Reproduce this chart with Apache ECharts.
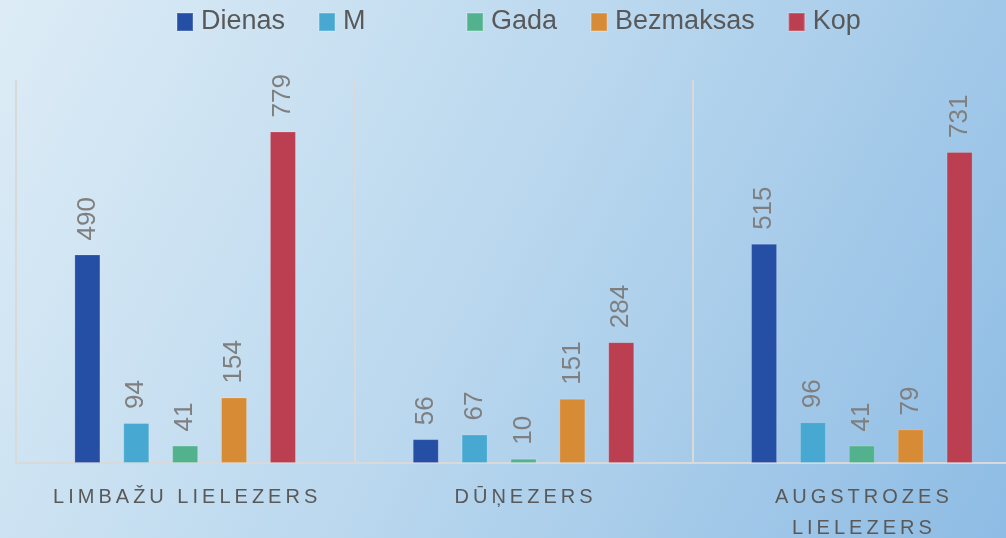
<!DOCTYPE html>
<html>
<head>
<meta charset="utf-8">
<script src="https://cdn.jsdelivr.net/npm/echarts@6/dist/echarts.min.js"></script>
<style>
html,body{margin:0;padding:0;width:1006px;height:538px;overflow:hidden;}
#c{width:1006px;height:538px;}
</style>
</head>
<body>
<div id="c"></div>
<script>
const categories = ['LIMBAŽU LIELEZERS', 'DŪŅEZERS', 'AUGSTROZES LIELEZERS'];
const seriesNames = ['Dienas', 'M', 'Gada', 'Bezmaksas', 'Kop'];
const dienas = [490, 56, 515];
const mVals = [94, 67, 96];
const gada = [41, 10, 41];
const bezmaksas = [154, 151, 79];
const kop = [779, 284, 731];
const colors = ['#254ea5', '#47a9d2', '#52b28d', '#d88b35', '#bb3f50'];

const dataSets = [dienas, mVals, gada, bezmaksas, kop];
const FONT = '"Liberation Sans", Arial, sans-serif';

const chart = echarts.init(document.getElementById('c'), null, {renderer: 'canvas'});
chart.setOption({
  backgroundColor: {
    type: 'linear', x: 0, y: 0, x2: 1, y2: 1,
    colorStops: [
      {offset: 0, color: '#ddecf6'},
      {offset: 0.5, color: '#b9d7ee'},
      {offset: 1, color: '#8ebce4'}
    ]
  },
  legend: {
    data: seriesNames,
    left: 176, top: 7,
    padding: 0,
    itemGap: 33,
    itemWidth: 16, itemHeight: 18,
    icon: 'rect',
    textStyle: {fontFamily: FONT, fontSize: 27, color: '#595959', lineHeight: 30, padding: [0, 0, 0, 3]},
    formatter: function (name) {
      return name === 'M' ? 'M' + '\u00a0'.repeat(9) : name;
    }
  },
  grid: {left: 16, top: 80, width: 1015, height: 383, containLabel: false, outerBoundsMode: 'none'},
  xAxis: {
    type: 'category',
    data: categories,
    axisLine: {show: true, lineStyle: {color: '#d9d9d9', width: 2}},
    axisTick: {show: false},
    splitLine: {show: true, interval: 0, lineStyle: {color: '#d9d9d9', width: 2}},
    axisLabel: {
      interval: 0,
      fontFamily: FONT, fontSize: 20, color: '#595959', lineHeight: 31, margin: 19,
      formatter: function (v) {
        const spaced = v.split('').join('\u2009');
        return v.length > 18 ? spaced.replace('\u2009 \u2009', '\n') : spaced;
      }
    }
  },
  yAxis: {
    type: 'value', min: 0, max: 900, interval: 100,
    show: false,
    splitLine: {show: false}
  },
  series: seriesNames.map(function (n, i) {
    return {
      name: n,
      type: 'bar',
      data: dataSets[i],
      barWidth: 26,
      barGap: '88%',
      barCategoryGap: '34%',
      itemStyle: {color: colors[i], borderColor: 'rgba(255,255,255,0.18)', borderWidth: 1},
      label: {
        show: true,
        position: 'top',
        rotate: 90,
        align: 'left',
        verticalAlign: 'middle',
        distance: 14,
        fontFamily: FONT,
        fontSize: 26,
        color: '#7f7f7f'
      }
    };
  }),
  color: colors,
  animation: false
});
</script>
</body>
</html>
